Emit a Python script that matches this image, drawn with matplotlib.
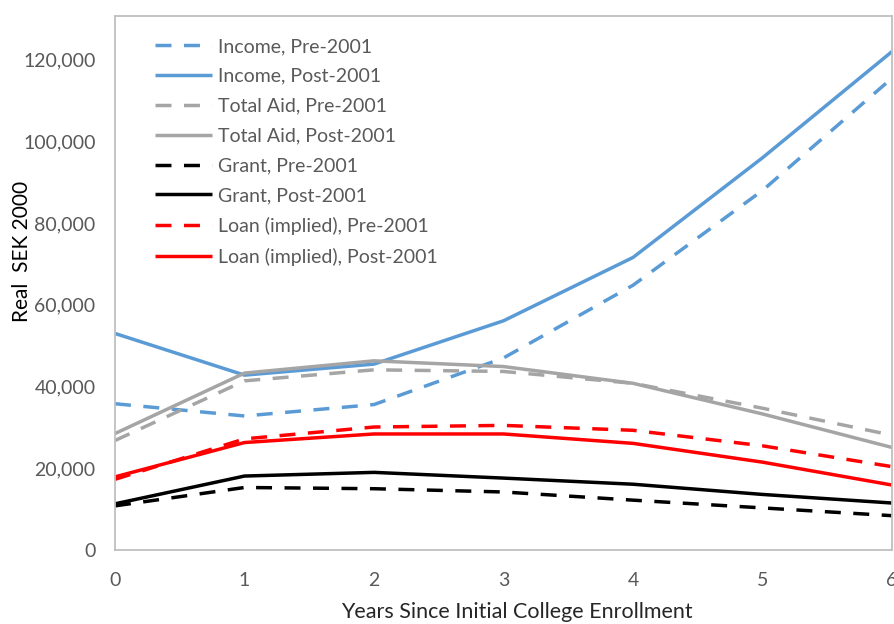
import matplotlib
matplotlib.use("Agg")
import matplotlib.pyplot as plt
import numpy as np

years = [0, 1, 2, 3, 4, 5, 6]
income_pre = [35800, 32800, 35600, 47000, 64800, 88000, 115500]
income_post = [53000, 42800, 45500, 56100, 71600, 96000, 122000]
aid_pre = [26800, 41400, 44100, 43700, 40800, 34700, 28100]
aid_post = [28500, 43300, 46300, 44900, 40800, 33300, 25100]
grant_pre = [10800, 15300, 15000, 14200, 12200, 10300, 8400]
grant_post = [11300, 18100, 19000, 17600, 16100, 13600, 11500]
loan_pre = [17300, 27200, 30100, 30500, 29300, 25500, 20400]
loan_post = [17900, 26300, 28400, 28400, 26100, 21500, 15900]

yticks = [0, 20000, 40000, 60000, 80000, 100000, 120000]

plt.rcParams['font.family'] = ['Lato', 'DejaVu Sans']

W, H = 894, 624
fig = plt.figure(figsize=(W / 100, H / 100), dpi=100)
ax = fig.add_axes([115 / W, 1 - 550 / H, (892 - 115) / W, (550 - 16) / H])

blue = '#5B9BD5'
gray = '#A5A5A5'
red = '#FF0000'
black = '#000000'
lw = 2.5
dash = (4.6, 3.6)

series = [
    (income_pre, blue, True, 'Income, Pre-2001'),
    (income_post, blue, False, 'Income, Post-2001'),
    (aid_pre, gray, True, 'Total Aid, Pre-2001'),
    (aid_post, gray, False, 'Total Aid, Post-2001'),
    (grant_pre, black, True, 'Grant, Pre-2001'),
    (grant_post, black, False, 'Grant, Post-2001'),
    (loan_pre, red, True, 'Loan (implied), Pre-2001'),
    (loan_post, red, False, 'Loan (implied), Post-2001'),
]
for vals, c, dashed, lab in series:
    if dashed:
        ax.plot(years, vals, color=c, lw=lw, dashes=dash, label=lab, clip_on=False)
    else:
        ax.plot(years, vals, color=c, lw=lw, label=lab, solid_capstyle='butt', clip_on=False)

ax.set_xlim(0, 6)
ax.set_ylim(0, 130700)
ax.set_xticks(years)
ax.set_yticks(yticks)
ax.set_yticklabels([f"{v:,}" for v in yticks])
ax.tick_params(length=0, labelsize=14, labelcolor='#595959')
ax.tick_params(axis='y', pad=14)
ax.tick_params(axis='x', pad=16)
for s in ax.spines.values():
    s.set_color('#BFBFBF')
    s.set_linewidth(1.3)

fig.text(517 / W, 1 - 612 / H, 'Years Since Initial College Enrollment',
         ha='center', va='center', fontsize=15.5, color='#262626')
fig.text(22 / W, 1 - 251 / H, 'Real  SEK 2000', rotation=90,
         ha='center', va='center', fontsize=15, color='#000000')

leg = ax.legend(loc='upper left', bbox_to_anchor=(155 / W, 1 - 38 / H),
                bbox_transform=fig.transFigure, frameon=False, fontsize=14,
                handlelength=2.95, handletextpad=0.28, labelspacing=0.66,
                borderpad=0, borderaxespad=0)
for t in leg.get_texts():
    t.set_color('#595959')

fig.savefig('out.png', dpi=100)
